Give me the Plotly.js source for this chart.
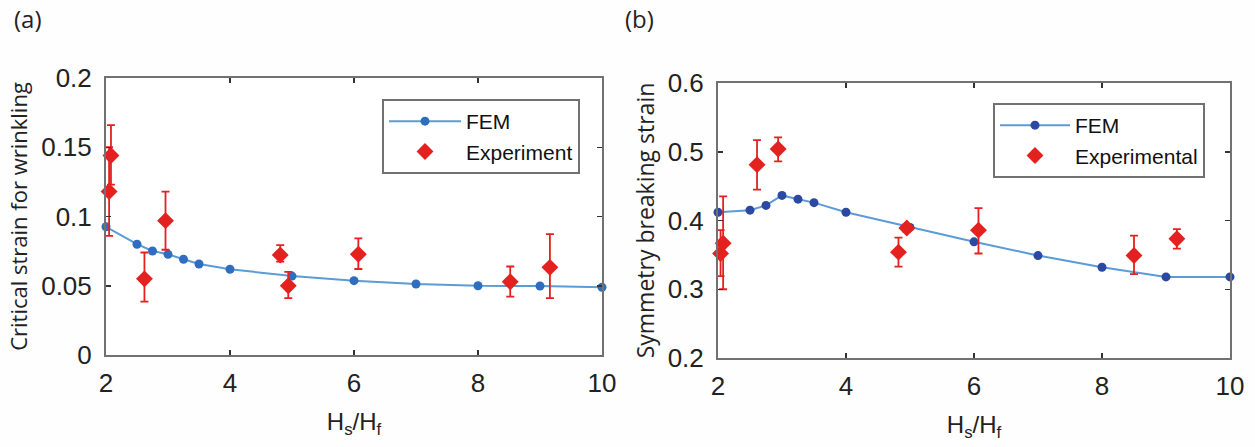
<!DOCTYPE html>
<html>
<head>
<meta charset="utf-8">
<script src="https://cdn.plot.ly/plotly-3.0.1.min.js"></script>
<style>html,body{margin:0;padding:0;background:#fff;}#chart{width:1255px;height:447px;}</style>
</head>
<body>
<div id="chart"></div>
<script>
// ---- Panel (a): critical strain for wrinkling ----
const femX_a = [2, 2.5, 2.75, 3, 3.25, 3.5, 4, 5, 6, 7, 8, 9, 10];
const femY_a = [0.0926, 0.080, 0.0751, 0.0727, 0.0691, 0.0657, 0.0619, 0.057, 0.0537, 0.0513, 0.050, 0.0498, 0.0489];
const expX_a = [2.05, 2.08, 2.62, 2.96, 4.81, 4.94, 6.07, 8.52, 9.16];
const expY_a = [0.118, 0.144, 0.055, 0.097, 0.0722, 0.050, 0.0727, 0.0529, 0.0633];
const expErrPlus_a = [0.032, 0.022, 0.019, 0.021, 0.0072, 0.010, 0.0115, 0.011, 0.024];
const expErrMinus_a = [0.032, 0.021, 0.0164, 0.021, 0.0048, 0.009, 0.0106, 0.0108, 0.0223];

// ---- Panel (b): symmetry breaking strain ----
const femX_b = [2, 2.5, 2.75, 3, 3.25, 3.5, 4, 5, 6, 7, 8, 9, 10];
const femY_b = [0.412, 0.415, 0.422, 0.4365, 0.431, 0.426, 0.412, 0.39, 0.369, 0.349, 0.332, 0.318, 0.318];
const expX_b = [2.04, 2.08, 2.61, 2.94, 4.82, 4.95, 6.07, 8.5, 9.17];
const expY_b = [0.352, 0.367, 0.481, 0.504, 0.354, 0.389, 0.386, 0.349, 0.3735];
const expErrPlus_b = [0.034, 0.068, 0.036, 0.017, 0.021, 0.006, 0.032, 0.029, 0.014];
const expErrMinus_b = [0.033, 0.067, 0.036, 0.018, 0.021, 0.006, 0.034, 0.027, 0.0145];

const ticksX = [2, 4, 6, 8, 10];
const ticksY_a = [0, 0.05, 0.1, 0.15, 0.2];
const ticksY_b = [0.2, 0.3, 0.4, 0.5, 0.6];

const W = 1255, H = 447;
const lineBlue = '#5b9bd6';
const red = '#e3211f';
const frame = '#717171';
const tickFont = {family: 'Liberation Sans, Arial, sans-serif', size: 26, color: '#222'};
const titleFont = {family: 'Open Sans, sans-serif', size: 22, color: '#222'};

const traces = [
  {x: femX_a, y: femY_a, xaxis: 'x', yaxis: 'y', type: 'scatter', mode: 'lines+markers', name: 'FEM',
   line: {color: lineBlue, width: 2}, marker: {color: '#2f6ebe', size: 9}, cliponaxis: false, legend: 'legend'},
  {x: expX_a, y: expY_a, xaxis: 'x', yaxis: 'y', type: 'scatter', mode: 'markers', name: 'Experiment',
   marker: {color: red, symbol: 'diamond', size: 13}, cliponaxis: false, legend: 'legend',
   error_y: {type: 'data', symmetric: false, array: expErrPlus_a, arrayminus: expErrMinus_a, color: red, thickness: 1.8, width: 4}},
  {x: femX_b, y: femY_b, xaxis: 'x2', yaxis: 'y2', type: 'scatter', mode: 'lines+markers', name: 'FEM',
   line: {color: lineBlue, width: 2}, marker: {color: '#2b48a2', size: 9}, cliponaxis: false, legend: 'legend2'},
  {x: expX_b, y: expY_b, xaxis: 'x2', yaxis: 'y2', type: 'scatter', mode: 'markers', name: 'Experimental',
   marker: {color: red, symbol: 'diamond', size: 13}, cliponaxis: false, legend: 'legend2',
   error_y: {type: 'data', symmetric: false, array: expErrPlus_b, arrayminus: expErrMinus_b, color: red, thickness: 1.8, width: 4}}
];

function xAxis(domain, anchor) {
  return {domain: domain, anchor: anchor, range: [2, 10], tickvals: ticksX, ticktext: ticksX.map(String),
    showline: true, linecolor: frame, linewidth: 2, mirror: 'ticks', ticks: 'inside', ticklen: 5, tickwidth: 1.5,
    tickcolor: '#333', showgrid: false, zeroline: false, tickfont: tickFont, ticklabelstandoff: 4, automargin: false,
    title: {text: 'H<sub>s</sub>/H<sub>f</sub>', standoff: 16, font: {family: 'Liberation Sans, Arial, sans-serif', size: 24, color: '#222'}}};
}
function yAxis(domain, anchor, range, ticks, title, tsize) {
  return {domain: domain, anchor: anchor, range: range, tickvals: ticks, ticktext: ticks.map(String),
    showline: true, linecolor: frame, linewidth: 2, mirror: 'ticks', ticks: 'inside', ticklen: 5, tickwidth: 1.5,
    tickcolor: '#333', showgrid: false, zeroline: false, tickfont: tickFont, ticklabelstandoff: 7, automargin: false,
    title: {text: title, standoff: 7, font: Object.assign({}, titleFont, {size: tsize})}};
}

const legendFont = {family: 'Liberation Sans, Arial, sans-serif', size: 21, color: '#111'};
const layout = {
  width: W, height: H,
  margin: {l: 0, r: 0, t: 0, b: 0},
  paper_bgcolor: '#fefefe', plot_bgcolor: '#ffffff',
  showlegend: true,
  xaxis: xAxis([106 / W, 602 / W], 'y'),
  yaxis: yAxis([(H - 355) / H, (H - 78) / H], 'x', [0, 0.2], ticksY_a, 'Critical strain for wrinkling', 22),
  xaxis2: xAxis([718 / W, 1230 / W], 'y2'),
  yaxis2: yAxis([(H - 358) / H, (H - 83) / H], 'x2', [0.2, 0.6], ticksY_b, 'Symmetry breaking strain', 23),
  legend: {x: 382 / W, y: (H - 99) / H, xanchor: 'left', yanchor: 'top', bgcolor: '#ffffff',
    bordercolor: frame, borderwidth: 2, font: legendFont, itemwidth: 72},
  legend2: {x: 993 / W, y: (H - 103) / H, xanchor: 'left', yanchor: 'top', bgcolor: '#ffffff',
    bordercolor: frame, borderwidth: 2, font: legendFont, itemwidth: 70},
  annotations: [
    {text: '(a)', xref: 'paper', yref: 'paper', x: 12 / W, y: (H - 18) / H, xanchor: 'left', yanchor: 'middle', showarrow: false,
     font: {family: 'Open Sans, sans-serif', size: 24, color: '#222'}},
    {text: '(b)', xref: 'paper', yref: 'paper', x: 623 / W, y: (H - 18) / H, xanchor: 'left', yanchor: 'middle', showarrow: false,
     font: {family: 'Open Sans, sans-serif', size: 24, color: '#222'}}
  ]
};

Plotly.newPlot('chart', traces, layout, {staticPlot: true, displayModeBar: false});
</script>
</body>
</html>
